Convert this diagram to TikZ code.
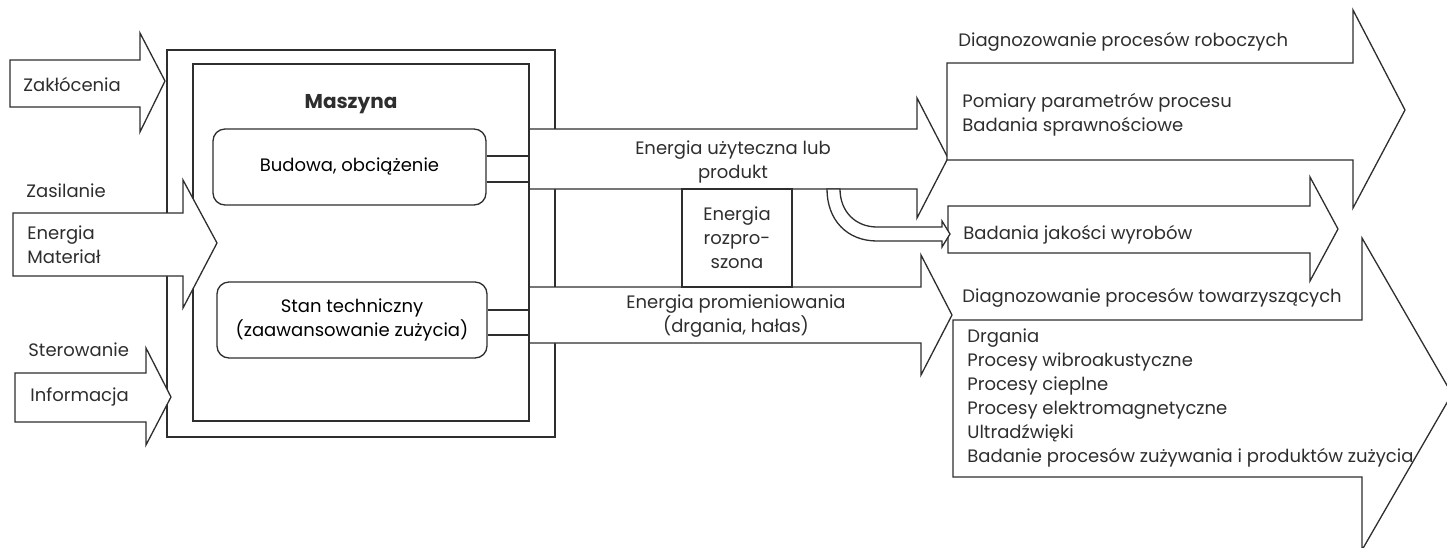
\documentclass[tikz,border=0pt]{standalone}
\usepackage{fontspec}
\setmainfont{Poppins}
\usetikzlibrary{positioning, calc}
\definecolor{inkgray}{HTML}{2E2E2E}
\tikzset{
  blockarrow/.style={draw=inkgray, fill=white, line width=0.65pt, line join=miter},
  framebox/.style={draw=inkgray, line width=0.65pt, inner sep=0pt},
  partbox/.style={draw=inkgray, line width=0.65pt, rounded corners=6pt, align=center, inner sep=0pt},
  link/.style={draw=inkgray, line width=0.65pt},
  plaintext/.style={inner sep=0pt, align=left, text=inkgray},
  midtext/.style={inner sep=0pt, align=center, text=inkgray},
}

\begin{document}
\begin{tikzpicture}[x=0.5pt, y=-0.5pt, font=\fontsize{9pt}{12pt}\selectfont]
  \useasboundingbox (0,0) rectangle (1447,547);
  \clip (0,0) rectangle (1447,547);

  % housing of the machine
  \node[framebox, minimum width=194pt, minimum height=193.5pt] (housing) at (361,243.5) {};

  % outputs of the machine
  \draw[blockarrow] (528,129) -- (917,129) -- (917,98) -- (948,158) -- (917,218) -- (917,189) -- (528,189);
  \draw[blockarrow] (528,287) -- (921,287) -- (921,255) -- (952,315) -- (921,375) -- (921,343) -- (528,343);
  \node[framebox, minimum width=55pt, minimum height=49pt, midtext] (scatter) at (737,238) {Energia\\rozpro-\\szona};
  \node[midtext] (useful) at (733,162) {Energia użyteczna lub\\produkt};
  \node[midtext] (radiated) at (736,316) {Energia promieniowania\\(drgania, hałas)};

  % machine and its parts
  \node[framebox, minimum width=168pt, minimum height=178.5pt] (machine) at (361,242.5) {};
  \node[font=\fontsize{10pt}{12pt}\selectfont\bfseries, text=inkgray] (title) at (351,104) {Maszyna};
  \node[partbox, minimum width=136.5pt, minimum height=38pt] (build) at (349.5,167) {Budowa, obciążenie};
  \node[partbox, minimum width=135pt, minimum height=38pt] (wear) at (352,320) {Stan techniczny\\(zaawansowanie zużycia)};

  \draw[link] ([yshift=-7.5pt]build.east) -- ([yshift=-7.5pt]build.east -| machine.east);
  \draw[link] ([yshift=5.5pt]build.east) -- ([yshift=5.5pt]build.east -| machine.east);
  \draw[link] ([yshift=5pt]wear.east) -- ([yshift=5pt]wear.east -| machine.east);
  \draw[link] ([yshift=-7.5pt]wear.east) -- ([yshift=-7.5pt]wear.east -| machine.east);

  % inputs
  \draw[blockarrow] (10,60) -- (140,60) -- (140,33) -- (165,81) -- (140,132) -- (140,107) -- (10,107) -- cycle;
  \draw[blockarrow] (13,213) -- (183,213) -- (183,180) -- (217,243) -- (183,308) -- (183,276) -- (13,276) -- cycle;
  \draw[blockarrow] (15,373) -- (146,373) -- (146,348) -- (171,397) -- (146,445) -- (146,422) -- (15,422) -- cycle;
  \node[plaintext, anchor=west] (disturb) at (23,84) {Zakłócenia};
  \node[plaintext, anchor=west] (supply) at (26,191) {Zasilanie};
  \node[plaintext, anchor=west] (energy) at (27,245) {Energia\\Materiał};
  \node[plaintext, anchor=west] (control) at (28,350) {Sterowanie};
  \node[plaintext, anchor=west] (info) at (30,397) {Informacja};

  % diagnostics
  \draw[blockarrow] (947,63) -- (1353,63) -- (1353,10) -- (1405,110) -- (1353,208) -- (1353,160) -- (947,160) -- cycle;
  \draw[blockarrow] (948,206) -- (1310,206) -- (1310,177) -- (1338,229) -- (1310,281) -- (1310,253) -- (948,253) -- cycle;
  \draw[blockarrow] (953,320) -- (1362,320) -- (1362,238) -- (1452,394) -- (1362,550) -- (1362,477) -- (953,477) -- cycle;
  \draw[blockarrow] (827,189) .. controls (827,220) and (847,241) .. (877,241) -- (942,241) -- (942,247) -- (950,234)
    -- (942,221) -- (942,227) -- (877,227) .. controls (856,227) and (840,212) .. (840,189) -- cycle;

  \node[plaintext, anchor=west] (working) at (958,42) {Diagnozowanie procesów roboczych};
  \node[plaintext, anchor=west] (measure) at (962,115) {Pomiary parametrów procesu\\Badania sprawnościowe};
  \node[plaintext, anchor=west] (quality) at (963,235) {Badania jakości wyrobów};
  \node[plaintext, anchor=west] (side) at (962,298) {Diagnozowanie procesów towarzyszących};
  \node[plaintext, anchor=west] (methods) at (967,398) {Drgania\\Procesy wibroakustyczne\\Procesy cieplne\\Procesy elektromagnetyczne\\Ultradźwięki\\Badanie procesów zużywania i produktów zużycia};
\end{tikzpicture}
\end{document}
